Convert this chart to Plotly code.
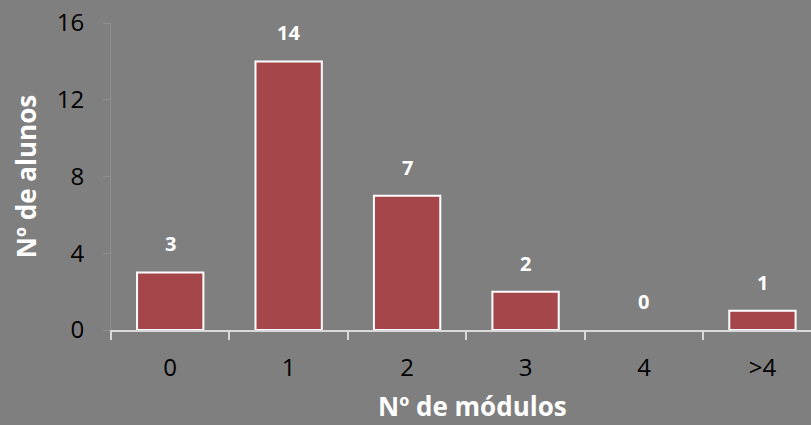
import plotly.graph_objects as go

categorias = ["0", "1", "2", "3", "4", ">4"]
alunos = [3, 14, 7, 2, 0, 1]
y_ticks = [0, 4, 8, 12, 16]

BG = "#7f7f7f"
BAR = "#a5474a"
FONT = "'Open Sans', sans-serif"

fig = go.Figure()

# zero-height bar gets no outline (nothing is drawn in the original)
outline = [2 if v > 0 else 0 for v in alunos]

fig.add_trace(go.Bar(
    x=categorias,
    y=alunos,
    width=0.56,
    marker=dict(color=BAR, line=dict(color="white", width=outline)),
    hoverinfo="x+y",
))

# value labels above the bars
for c, v in zip(categorias, alunos):
    fig.add_annotation(x=c, y=v, text="<b>%d</b>" % v, showarrow=False,
                       yanchor="bottom", yshift=13,
                       font=dict(family=FONT, size=20, color="white"))

# x title: centred on the full (cropped) category band, not the visible plot area
fig.add_annotation(x=0.516, y=0, xref="paper", yref="paper", yanchor="middle",
                   yshift=-76, showarrow=False, text="<b>Nº de módulos</b>",
                   font=dict(family=FONT, size=26, color="white"))

fig.update_layout(
    width=811, height=425,
    paper_bgcolor=BG, plot_bgcolor=BG,
    margin=dict(l=111, r=0, t=23, b=95),
    showlegend=False,
    font=dict(family=FONT, size=24, color="black"),
    bargap=0.44,
)

fig.update_xaxes(
    type="category",
    range=[-0.5, 5.41],
    tickson="boundaries",
    ticks="outside", ticklen=8, tickwidth=2, tickcolor="#d9d9d9",
    showline=True, linecolor="#d9d9d9", linewidth=2,
    showgrid=False,
    tickfont=dict(size=24, color="black"),
    ticklabelstandoff=15,
)

fig.update_yaxes(
    range=[0, 16],
    tickvals=y_ticks,
    ticks="outside", ticklen=7, tickwidth=1, tickcolor="#8e8e8e",
    showline=True, linecolor="#8e8e8e", linewidth=1,
    showgrid=False, zeroline=False,
    tickfont=dict(size=24, color="black"),
    ticklabelstandoff=14,
    title=dict(text="<b>Nº de alunos</b>", font=dict(size=26, color="white"), standoff=12),
)

fig.write_html("out.html", config={"displayModeBar": False},
               post_script="document.body.style.margin='0';document.body.style.overflow='hidden';")
